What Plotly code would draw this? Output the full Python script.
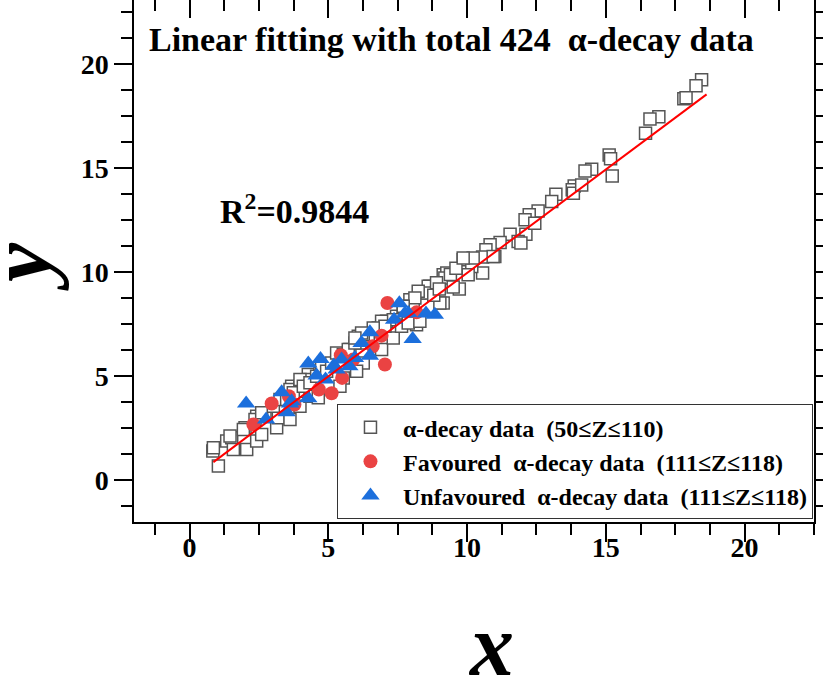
import plotly.graph_objects as go

# alpha-decay data (50<=Z<=110), open squares
sq_x = [0.84, 1.04, 1.34, 1.52, 1.58, 2.0, 2.06, 2.42, 2.6, 2.42, 2.72, 3.14, 3.2, 3.62,
        3.68, 3.98, 4.16, 3.98, 4.34, 4.64, 4.28,
        0.86, 1.46, 1.94, 2.36, 2.6, 3.02, 3.26, 3.62, 3.98, 4.34, 4.7, 5.06, 5.42, 5.78,
        6.14, 6.44, 6.8, 7.1, 7.46, 7.7, 7.94, 8.3, 8.66, 9.14, 9.14,
        3.5, 3.74, 3.98, 4.1, 4.34, 4.58, 4.76, 4.94, 5.12, 5.3, 5.54, 5.72, 5.96, 6.08,
        6.26, 6.26, 6.02, 5.54, 5.42, 6.92, 7.34, 6.98, 7.34,
        6.92, 7.04, 6.62, 6.2, 5.96, 7.64, 7.76, 7.94, 8.18,
        11.0, 10.56, 9.86, 10.17, 10.04, 9.27, 9.2, 9.72, 9.02, 8.6, 8.54, 8.24, 8.12,
        8.06, 7.88, 8.3, 7.7, 8.9, 9.4, 9.6, 9.5, 8.8, 9.0,
        13.86, 13.79, 13.83, 13.2, 13.05, 12.56, 12.24, 12.09, 12.12, 12.44, 11.55,
        11.84, 11.94, 11.19, 10.83, 10.68, 10.56, 10.22, 9.86, 10.94,
        18.45, 18.25, 17.81, 17.89, 16.91, 16.59, 16.43, 15.12, 15.17, 15.23, 14.49,
        14.25, 14.13]
sq_y = [1.41, 0.69, 1.89, 2.05, 1.49, 2.53, 1.49, 1.89, 2.21, 3.09, 3.25, 2.53, 3.01, 2.93,
        4.53, 4.29, 4.77, 3.57, 4.05, 3.97, 5.09,
        1.57, 2.13, 2.45, 2.93, 3.25, 3.57, 3.89, 4.37, 4.53, 4.85, 5.17, 5.49, 5.97, 6.29,
        6.61, 6.93, 7.33, 7.65, 7.89, 8.21, 8.69, 9.01, 9.33, 9.89, 8.53,
        3.89, 4.21, 4.85, 4.53, 4.69, 5.01, 5.49, 5.25, 5.65, 6.13, 6.05, 6.29, 6.61, 6.93,
        7.01, 5.65, 5.25, 4.93, 4.53, 6.29, 6.85, 7.57, 7.73,
        7.65, 7.41, 7.33, 7.09, 6.85, 7.41, 8.05, 8.37, 7.49,
        10.77, 9.97, 10.61, 10.29, 9.89, 9.97, 9.73, 9.2, 8.53, 9.33, 9.01, 9.09, 8.77,
        8.21, 7.57, 7.65, 8.37, 9.5, 9.9, 10.2, 9.3, 8.9, 9.2,
        14.16, 13.97, 13.81, 13.76, 13.41, 12.96, 12.77, 12.53, 11.84, 12.37, 11.84,
        11.49, 11.41, 11.44, 11.33, 11.09, 10.74, 10.69, 10.69, 10.77,
        19.27, 18.98, 18.35, 18.4, 17.49, 17.38, 16.69, 15.65, 15.47, 14.64, 14.96,
        14.88, 14.21]

# Favoured alpha-decay data (111<=Z<=118)
fav_x = [2.3, 2.96, 3.58, 3.78, 4.66, 5.12, 5.5, 5.45, 5.9, 6.6, 6.92, 7.04, 7.13, 8.18]
fav_y = [2.69, 3.7, 4.05, 3.65, 4.37, 4.19, 4.93, 6.02, 5.81, 6.45, 6.96, 5.57, 8.53, 8.08]

# Unfavoured alpha-decay data (111<=Z<=118)
unf_x = [2.04, 2.76, 3.32, 3.62, 3.5, 4.28, 3.68, 4.28, 4.72, 4.58, 4.9, 5.2, 5.3, 5.48,
         5.76, 5.96, 6.2, 6.5, 6.5, 7.37, 7.56, 7.76, 7.88, 8.04, 8.52, 8.84]
unf_y = [3.7, 2.93, 4.24, 3.7, 3.28, 3.95, 3.81, 5.62, 5.84, 5.04, 4.85, 5.52, 5.33, 5.81,
         5.49, 5.89, 6.61, 7.12, 6.0, 7.73, 8.52, 8.02, 8.05, 6.8, 8.02, 7.97]

# linear fit end points
fit_x = [0.86, 18.63]
fit_y = [0.88, 18.56]

FONT = "Liberation Serif"
NB = "\u00a0"

fig = go.Figure()
fig.add_trace(go.Scatter(
    x=sq_x, y=sq_y, mode="markers",
    name=f"α-decay data{NB}{NB}(50≤Z≤110)",
    marker=dict(symbol="square", size=12, color="white",
                line=dict(color="#555555", width=1.5))))
fig.add_trace(go.Scatter(
    x=fav_x, y=fav_y, mode="markers",
    name=f"Favoured{NB}{NB}α-decay data{NB}{NB}(111≤Z≤118)",
    marker=dict(symbol="circle", size=14, color="#ea4343", line=dict(width=0))))
fig.add_trace(go.Scatter(
    x=unf_x, y=unf_y, mode="markers",
    name=f"Unfavoured{NB}{NB}α-decay data{NB}{NB}(111≤Z≤118)",
    marker=dict(symbol="triangle-up", size=16, color="#1c6fdc", line=dict(width=0))))
fig.add_trace(go.Scatter(
    x=fit_x, y=fit_y, mode="lines", showlegend=False,
    line=dict(color="#ff0000", width=2)))
# empty traces so the mirrored top / right axes get drawn
fig.add_trace(go.Scatter(x=[], y=[], xaxis="x2", yaxis="y", showlegend=False))
fig.add_trace(go.Scatter(x=[], y=[], xaxis="x", yaxis="y2", showlegend=False))

xr = [-2, 22.5]
yr = [-2, 23.1]
tickfont = dict(family=FONT, size=28, color="black", weight="bold")

fig.update_layout(
    width=823, height=681,
    margin=dict(l=134, r=9, t=0, b=159, autoexpand=False),
    plot_bgcolor="white", paper_bgcolor="white",
    font=dict(family=FONT, color="black"),
    xaxis=dict(range=xr, tick0=0, dtick=5, ticks="outside", ticklen=18, tickwidth=1.5,
               tickcolor="black", showline=True, linecolor="black", linewidth=1.5,
               showgrid=False, zeroline=False, tickfont=tickfont, ticklabelstandoff=-18,
               automargin=False,
               minor=dict(dtick=1.25, ticks="outside", ticklen=11, tickwidth=1.5,
                          tickcolor="black", showgrid=False)),
    yaxis=dict(range=yr, tick0=0, dtick=5, ticks="outside", ticklen=18, tickwidth=1.5,
               tickcolor="black", showline=True, linecolor="black", linewidth=1.5,
               showgrid=False, zeroline=False, tickfont=tickfont, automargin=False,
               minor=dict(dtick=1.25, ticks="outside", ticklen=11, tickwidth=1.5,
                          tickcolor="black", showgrid=False)),
    xaxis2=dict(range=xr, overlaying="x", side="top", anchor="y", tick0=0, dtick=5,
                ticks="inside", ticklen=18, tickwidth=1.5, tickcolor="black",
                showticklabels=False, showline=False, showgrid=False, zeroline=False,
                automargin=False,
                minor=dict(dtick=1.25, ticks="inside", ticklen=11, tickwidth=1.5,
                           tickcolor="black", showgrid=False)),
    yaxis2=dict(range=yr, overlaying="y", side="right", anchor="x", tick0=0, dtick=5,
                ticks="outside", ticklen=18, tickwidth=1.5, tickcolor="black",
                showticklabels=False, showline=True, linecolor="black", linewidth=1.5,
                showgrid=False, zeroline=False, automargin=False,
                minor=dict(dtick=1.25, ticks="outside", ticklen=11, tickwidth=1.5,
                           tickcolor="black", showgrid=False)),
    legend=dict(x=0.2985, y=0.226, xanchor="left", yanchor="top",
                bordercolor="#333333", borderwidth=1, bgcolor="white",
                font=dict(family=FONT, size=24, color="black", weight="bold"),
                itemwidth=55),
    showlegend=True,
)

fig.add_annotation(text=f"Linear fitting with total 424{NB}{NB}α-decay data",
                   xref="paper", yref="paper", x=0.019, y=0.925,
                   xanchor="left", yanchor="middle", showarrow=False,
                   font=dict(family=FONT, size=34, color="black", weight="bold"))
fig.add_annotation(text="R<sup>2</sup>=0.9844",
                   xref="paper", yref="paper", x=0.1235, y=0.6,
                   xanchor="left", yanchor="middle", showarrow=False,
                   font=dict(family=FONT, size=34, color="black", weight="bold"))
fig.add_annotation(text="<i>y</i>", xref="paper", yref="paper",
                   x=-0.168, y=0.49, xanchor="center", yanchor="middle",
                   textangle=-90, showarrow=False,
                   font=dict(family=FONT, size=88, color="black", weight="bold"))
fig.add_annotation(text="<i>x</i>", xref="paper", yref="paper",
                   x=0.525, y=-0.236, xanchor="center", yanchor="middle",
                   showarrow=False,
                   font=dict(family=FONT, size=88, color="black", weight="bold"))

fig.write_html("out.html", config={"displayModeBar": False},
               post_script="document.body.style.margin='0';")
